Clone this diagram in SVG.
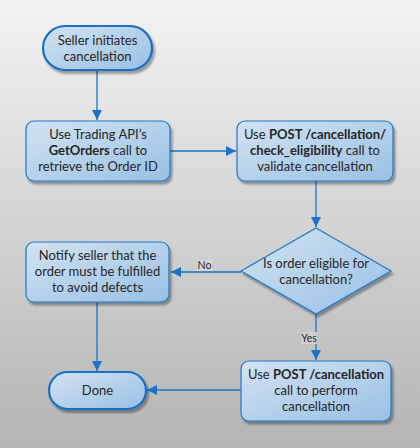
<svg xmlns="http://www.w3.org/2000/svg" width="420" height="448" viewBox="0 0 420 448">
<defs>
<linearGradient id="bg" x1="0" y1="0" x2="0" y2="1">
<stop offset="0" stop-color="#f3f3f3"/>
<stop offset="1" stop-color="#b4b4b4"/>
</linearGradient>
<linearGradient id="fill" x1="0" y1="0" x2="1" y2="1">
<stop offset="0" stop-color="#d3e3f2"/>
<stop offset="1" stop-color="#98c0e4"/>
</linearGradient>
<filter id="sh" x="-10%" y="-10%" width="130%" height="140%">
<feGaussianBlur in="SourceAlpha" stdDeviation="1.2"/>
<feOffset dx="2" dy="3" result="b"/>
<feComponentTransfer><feFuncA type="linear" slope="0.35"/></feComponentTransfer>
<feMerge><feMergeNode/><feMergeNode in="SourceGraphic"/></feMerge>
</filter>
<marker id="arr" viewBox="0 0 10 10" refX="10" refY="5" markerWidth="10" markerHeight="10" markerUnits="userSpaceOnUse" orient="auto">
<path d="M0,0 L10,5 L0,10 z" fill="#1a73c9"/>
</marker>
</defs>
<style>
.node{fill:url(#fill);stroke:#1f77c9;stroke-width:1.2;filter:url(#sh)}
.term{fill:url(#fill);stroke:#1a6fc4;stroke-width:2.2;filter:url(#sh)}
.t{font-family:Lato,"Open Sans",sans-serif;font-size:13px;fill:#262626;text-anchor:middle}
.b{font-weight:bold}
.c{fill:none;stroke:#1a73c9;stroke-width:1.3}
.lbl{font-family:Lato,"Open Sans",sans-serif;font-size:10.5px;fill:#262626;text-anchor:middle}
</style>
<rect width="420" height="448" fill="url(#bg)"/>
<g id="connectors">
<path class="c" d="M97,70 V120" marker-end="url(#arr)"/>
<path class="c" d="M170,151 H236" marker-end="url(#arr)"/>
<path class="c" d="M316,181 V227" marker-end="url(#arr)"/>
<path class="c" d="M241,272 H171" marker-end="url(#arr)"/>
<path class="c" d="M97,302 V371" marker-end="url(#arr)"/>
<path class="c" d="M316,314 V360" marker-end="url(#arr)"/>
<path class="c" d="M241,390 H147" marker-end="url(#arr)"/>
<rect x="197" y="260" width="15" height="11" fill="#d9d9d9" opacity="0.9"/>
<text class="lbl" x="204.5" y="269">No</text>
<rect x="301" y="332" width="16" height="12" fill="#d0d0d0" opacity="0.9"/>
<text class="lbl" x="309" y="342">Yes</text>
</g>
<g id="start">
<rect class="term" x="43" y="26" width="109" height="44" rx="22"/>
<text class="t" x="97.5" y="45">Seller initiates</text>
<text class="t" x="97.5" y="60.5">cancellation</text>
</g>
<g id="getorders">
<rect class="node" x="26" y="121" width="144" height="60" rx="8"/>
<text class="t" x="98" y="139">Use Trading API’s</text>
<text class="t" x="98" y="155"><tspan class="b">GetOrders</tspan> call to</text>
<text class="t" x="98" y="170.5">retrieve the Order ID</text>
</g>
<g id="check">
<rect class="node" x="237" y="121" width="156" height="60" rx="8"/>
<text class="t" x="315" y="139">Use <tspan class="b">POST /cancellation/</tspan></text>
<text class="t" x="315" y="155"><tspan class="b">check_eligibility</tspan> call to</text>
<text class="t" x="315" y="170.5">validate cancellation</text>
</g>
<g id="decision">
<path class="node" d="M316,228 L391,271 L316,314 L241,271 Z"/>
<text class="t" x="316" y="268">Is order eligible for</text>
<text class="t" x="316" y="284">cancellation?</text>
</g>
<g id="notify">
<rect class="node" x="26" y="242" width="143" height="60" rx="8"/>
<text class="t" x="97.5" y="260">Notify seller that the</text>
<text class="t" x="97.5" y="276">order must be fulfilled</text>
<text class="t" x="97.5" y="291.5">to avoid defects</text>
</g>
<g id="done">
<rect class="term" x="49" y="372" width="97" height="37" rx="18.5"/>
<text class="t" x="97.5" y="395">Done</text>
</g>
<g id="cancel">
<rect class="node" x="241" y="361" width="150" height="60" rx="8"/>
<text class="t" x="316" y="379">Use <tspan class="b">POST /cancellation</tspan></text>
<text class="t" x="316" y="395">call to perform</text>
<text class="t" x="316" y="410.5">cancellation</text>
</g>
</svg>
